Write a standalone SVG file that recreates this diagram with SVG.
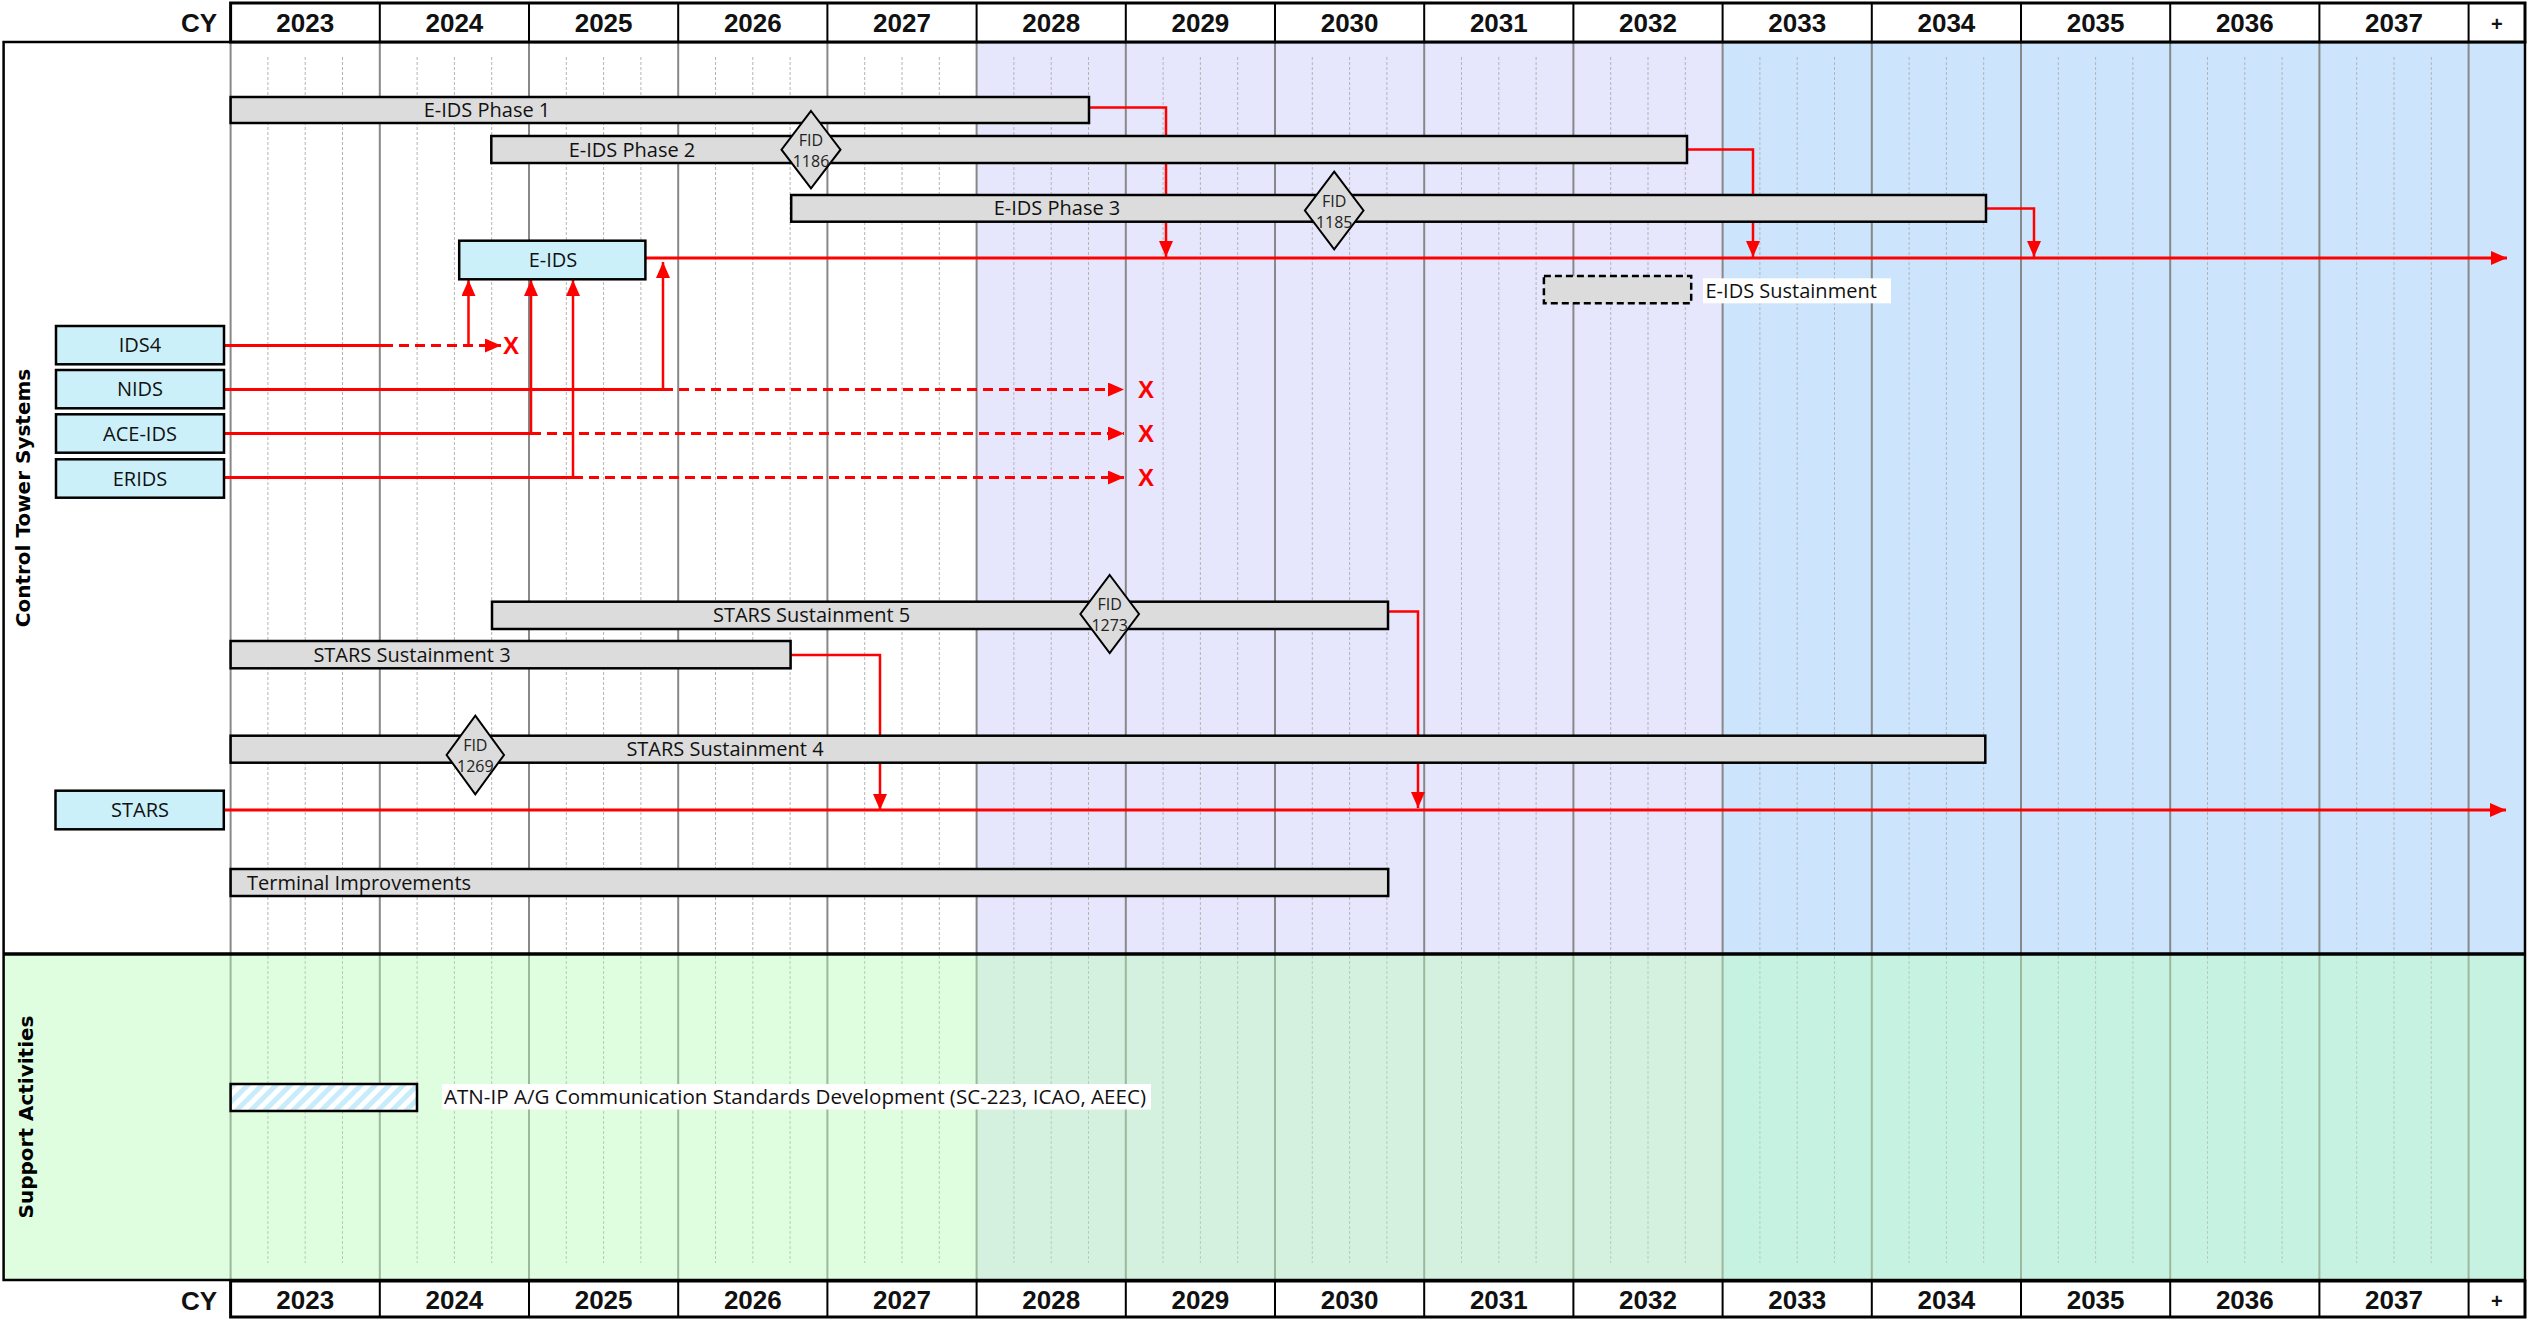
<svg xmlns="http://www.w3.org/2000/svg" width="2535" height="1319" viewBox="0 0 2535 1319">
<style>
.yr{font-family:"Liberation Sans",Arial,sans-serif;font-weight:bold;font-size:26px;fill:#111;text-anchor:middle}
.lbl{font-family:"Open Sans","Noto Sans",sans-serif;font-size:20px;fill:#111}
.c{text-anchor:middle}
.fid{font-family:"Open Sans","Noto Sans",sans-serif;font-size:16px;fill:#222;text-anchor:middle}
.sec{font-family:"DejaVu Sans",sans-serif;font-weight:bold;font-size:20px;fill:#000;text-anchor:middle}
.bar{fill:#DCDCDC;stroke:#000;stroke-width:2.5}
.sys{fill:#CCF0FA;stroke:#000;stroke-width:2.5}
.dia{fill:#DCDCDC;stroke:#000;stroke-width:2}
.red{fill:none;stroke:#FF0000;stroke-width:2.5}
.redm{fill:none;stroke:#FF0000;stroke-width:3}
.dash{fill:none;stroke:#FF0000;stroke-width:3;stroke-dasharray:10,6}
.x{font-family:"Liberation Sans",Arial,sans-serif;font-weight:bold;font-size:24px;fill:#FF0000;text-anchor:middle}
.hdr{fill:#fff;stroke:#000;stroke-width:3}
.div{stroke:#000;stroke-width:2}
</style>
<defs>
<marker id="arr" viewBox="0 0 16 14" refX="16" refY="7" markerWidth="16" markerHeight="14" markerUnits="userSpaceOnUse" orient="auto">
<path d="M0,0 L16,7 L0,14 z" fill="#FF0000"/>
</marker>
<pattern id="hatch" width="10" height="10" patternUnits="userSpaceOnUse" patternTransform="rotate(45)">
<rect width="10" height="10" fill="#fff"/>
<rect width="5" height="10" fill="#C8ECFA"/>
</pattern>
</defs>

<g id="background">
<rect x="0" y="0" width="2535" height="1319" fill="#fff"/>
<rect x="3.6" y="42" width="2521.4" height="912" fill="#fff"/>
<rect x="976.6" y="42" width="746" height="912" fill="#E6E6FD"/>
<rect x="1722.6" y="42" width="802.4" height="912" fill="#CCE5FC"/>
<rect x="3.6" y="954" width="973" height="326" fill="#DFFDDF"/>
<rect x="976.6" y="954" width="746" height="326" fill="#D4F0DF"/>
<rect x="1722.6" y="954" width="802.4" height="326" fill="#C6F2E1"/>
</g>

<g id="grid">
<path stroke="#B4B4B4" stroke-width="1" stroke-dasharray="3,2" fill="none" d="M267.9,57V953M305.2,57V953M342.5,57V953M417.1,57V953M454.4,57V953M491.7,57V953M566.3,57V953M603.6,57V953M640.9,57V953M715.5,57V953M752.8,57V953M790.1,57V953M864.7,57V953M902,57V953M939.3,57V953M1013.9,57V953M1051.2,57V953M1088.5,57V953M1163.1,57V953M1200.4,57V953M1237.7,57V953M1312.3,57V953M1349.6,57V953M1386.9,57V953M1461.5,57V953M1498.8,57V953M1536.1,57V953M1610.7,57V953M1648,57V953M1685.3,57V953M1759.9,57V953M1797.2,57V953M1834.5,57V953M1909.1,57V953M1946.4,57V953M1983.7,57V953M2058.3,57V953M2095.6,57V953M2132.9,57V953M2207.5,57V953M2244.8,57V953M2282.1,57V953M2356.7,57V953M2394,57V953M2431.3,57V953"/>
<path stroke="#B8CCB8" stroke-width="1" stroke-dasharray="3,2" fill="none" d="M267.9,956V1263M305.2,956V1263M342.5,956V1263M417.1,956V1263M454.4,956V1263M491.7,956V1263M566.3,956V1263M603.6,956V1263M640.9,956V1263M715.5,956V1263M752.8,956V1263M790.1,956V1263M864.7,956V1263M902,956V1263M939.3,956V1263M1013.9,956V1263M1051.2,956V1263M1088.5,956V1263M1163.1,956V1263M1200.4,956V1263M1237.7,956V1263M1312.3,956V1263M1349.6,956V1263M1386.9,956V1263M1461.5,956V1263M1498.8,956V1263M1536.1,956V1263M1610.7,956V1263M1648,956V1263M1685.3,956V1263M1759.9,956V1263M1797.2,956V1263M1834.5,956V1263M1909.1,956V1263M1946.4,956V1263M1983.7,956V1263M2058.3,956V1263M2095.6,956V1263M2132.9,956V1263M2207.5,956V1263M2244.8,956V1263M2282.1,956V1263M2356.7,956V1263M2394,956V1263M2431.3,956V1263"/>
<path stroke="#888" stroke-width="2" fill="none" d="M230.6,42V954M379.8,42V954M529,42V954M678.2,42V954M827.4,42V954M976.6,42V954M1125.8,42V954M1275,42V954M1424.2,42V954M1573.4,42V954M1722.6,42V954M1871.8,42V954M2021,42V954M2170.2,42V954M2319.4,42V954M2468.6,42V954"/>
<path stroke="#9DB89D" stroke-width="2" fill="none" d="M230.6,954V1280M379.8,954V1280M529,954V1280M678.2,954V1280M827.4,954V1280M976.6,954V1280M1125.8,954V1280M1275,954V1280M1424.2,954V1280M1573.4,954V1280M1722.6,954V1280M1871.8,954V1280M2021,954V1280M2170.2,954V1280M2319.4,954V1280M2468.6,954V1280"/>
</g>

<g id="frame">
<rect x="3.6" y="42" width="2521.4" height="1238" fill="none" stroke="#000" stroke-width="2.5"/>
<line x1="3.6" y1="954" x2="2525" y2="954" stroke="#000" stroke-width="3.5"/>
</g>

<g id="header-top">
<text class="yr" x="217" y="32" style="text-anchor:end">CY</text>
<rect class="hdr" x="230.6" y="3" width="2294.4" height="39"/>
<path class="div" d="M379.8,3V42M529,3V42M678.2,3V42M827.4,3V42M976.6,3V42M1125.8,3V42M1275,3V42M1424.2,3V42M1573.4,3V42M1722.6,3V42M1871.8,3V42M2021,3V42M2170.2,3V42M2319.4,3V42M2468.6,3V42"/>
<text class="yr" x="305.2" y="32">2023</text>
<text class="yr" x="454.4" y="32">2024</text>
<text class="yr" x="603.6" y="32">2025</text>
<text class="yr" x="752.8" y="32">2026</text>
<text class="yr" x="902" y="32">2027</text>
<text class="yr" x="1051.2" y="32">2028</text>
<text class="yr" x="1200.4" y="32">2029</text>
<text class="yr" x="1349.6" y="32">2030</text>
<text class="yr" x="1498.8" y="32">2031</text>
<text class="yr" x="1648" y="32">2032</text>
<text class="yr" x="1797.2" y="32">2033</text>
<text class="yr" x="1946.4" y="32">2034</text>
<text class="yr" x="2095.6" y="32">2035</text>
<text class="yr" x="2244.8" y="32">2036</text>
<text class="yr" x="2394" y="32">2037</text>
<text class="yr" x="2496.8" y="31" style="font-size:20px">+</text>
</g>

<g id="header-bottom">
<text class="yr" x="217" y="1310" style="text-anchor:end">CY</text>
<rect class="hdr" x="230.6" y="1281" width="2294.4" height="36"/>
<path class="div" d="M379.8,1281V1317M529,1281V1317M678.2,1281V1317M827.4,1281V1317M976.6,1281V1317M1125.8,1281V1317M1275,1281V1317M1424.2,1281V1317M1573.4,1281V1317M1722.6,1281V1317M1871.8,1281V1317M2021,1281V1317M2170.2,1281V1317M2319.4,1281V1317M2468.6,1281V1317"/>
<text class="yr" x="305.2" y="1309">2023</text>
<text class="yr" x="454.4" y="1309">2024</text>
<text class="yr" x="603.6" y="1309">2025</text>
<text class="yr" x="752.8" y="1309">2026</text>
<text class="yr" x="902" y="1309">2027</text>
<text class="yr" x="1051.2" y="1309">2028</text>
<text class="yr" x="1200.4" y="1309">2029</text>
<text class="yr" x="1349.6" y="1309">2030</text>
<text class="yr" x="1498.8" y="1309">2031</text>
<text class="yr" x="1648" y="1309">2032</text>
<text class="yr" x="1797.2" y="1309">2033</text>
<text class="yr" x="1946.4" y="1309">2034</text>
<text class="yr" x="2095.6" y="1309">2035</text>
<text class="yr" x="2244.8" y="1309">2036</text>
<text class="yr" x="2394" y="1309">2037</text>
<text class="yr" x="2496.8" y="1308" style="font-size:20px">+</text>
</g>

<g id="section-labels">
<text class="sec" transform="translate(30,498) rotate(-90)">Control Tower Systems</text>
<text class="sec" transform="translate(33,1117) rotate(-90)">Support Activities</text>
</g>

<g id="connectors">
<path class="redm" d="M645,258H2507" marker-end="url(#arr)"/>
<path class="red" d="M1089,107.5H1166V257" marker-end="url(#arr)"/>
<path class="red" d="M1687,149.5H1753V257" marker-end="url(#arr)"/>
<path class="red" d="M1986,208.5H2034V257" marker-end="url(#arr)"/>
<path class="redm" d="M224,345.5H383"/>
<path class="dash" d="M383,345.5H501" marker-end="url(#arr)"/>
<path class="red" d="M468.5,345.5V280" marker-end="url(#arr)"/>
<path class="redm" d="M224,389.5H663"/>
<path class="dash" d="M663,389.5H1124" marker-end="url(#arr)"/>
<path class="red" d="M663,389.5V262" marker-end="url(#arr)"/>
<path class="redm" d="M224,433.5H531"/>
<path class="dash" d="M531,433.5H1124" marker-end="url(#arr)"/>
<path class="red" d="M531,433.5V280" marker-end="url(#arr)"/>
<path class="redm" d="M224,477.5H573"/>
<path class="dash" d="M573,477.5H1124" marker-end="url(#arr)"/>
<path class="red" d="M573,477.5V280" marker-end="url(#arr)"/>
<path class="redm" d="M224,810H2506" marker-end="url(#arr)"/>
<path class="red" d="M1388,611.5H1418V808" marker-end="url(#arr)"/>
<path class="red" d="M790.6,655H880V810" marker-end="url(#arr)"/>
<text class="x" x="511" y="354">X</text>
<text class="x" x="1146" y="398">X</text>
<text class="x" x="1146" y="442">X</text>
<text class="x" x="1146" y="486">X</text>
</g>

<g id="eids-phase1">
<rect class="bar" x="230.6" y="97" width="858.4" height="26"/>
<text class="lbl c" x="487" y="117">E-IDS Phase 1</text>
</g>
<g id="eids-phase2">
<rect class="bar" x="491.3" y="136" width="1195.7" height="27"/>
<text class="lbl c" x="632" y="156.5">E-IDS Phase 2</text>
</g>
<g id="fid-1186">
<polygon class="dia" points="811,111 840.5,149.7 811,188.4 781.5,149.7"/>
<text class="fid" x="811" y="146">FID</text>
<text class="fid" x="811" y="167">1186</text>
</g>
<g id="eids-phase3">
<rect class="bar" x="791.2" y="195" width="1194.8" height="26.7"/>
<text class="lbl c" x="1057" y="215">E-IDS Phase 3</text>
</g>
<g id="fid-1185">
<polygon class="dia" points="1334.2,171.7 1363.5,210.5 1334.2,249.3 1304.9,210.5"/>
<text class="fid" x="1334.2" y="206.5">FID</text>
<text class="fid" x="1334.2" y="227.5">1185</text>
</g>
<g id="eids">
<rect class="sys" x="459.2" y="240.7" width="186.2" height="38.6"/>
<text class="lbl c" x="553" y="267">E-IDS</text>
</g>
<g id="eids-sustainment">
<rect x="1543.9" y="276" width="147.3" height="27.3" fill="#DCDCDC" stroke="#000" stroke-width="2.5" stroke-dasharray="7,4"/>
<rect x="1703" y="278.3" width="188" height="25" fill="#fff"/>
<text class="lbl" x="1705.5" y="298">E-IDS Sustainment</text>
</g>
<g id="ids4">
<rect class="sys" x="56" y="326" width="168" height="38.3"/>
<text class="lbl c" x="140" y="352">IDS4</text>
</g>
<g id="nids">
<rect class="sys" x="56" y="370" width="168" height="38.3"/>
<text class="lbl c" x="140" y="396">NIDS</text>
</g>
<g id="ace-ids">
<rect class="sys" x="56" y="414.3" width="168" height="38.4"/>
<text class="lbl c" x="140" y="440.5">ACE-IDS</text>
</g>
<g id="erids">
<rect class="sys" x="56" y="459.3" width="168" height="38.4"/>
<text class="lbl c" x="140" y="485.5">ERIDS</text>
</g>
<g id="stars-sust5">
<rect class="bar" x="492" y="601.7" width="896" height="27.3"/>
<text class="lbl c" x="811.6" y="622">STARS Sustainment 5</text>
</g>
<g id="fid-1273">
<polygon class="dia" points="1109.7,575 1139,614 1109.7,653 1080.4,614"/>
<text class="fid" x="1109.7" y="610">FID</text>
<text class="fid" x="1109.7" y="631">1273</text>
</g>
<g id="stars-sust3">
<rect class="bar" x="230.6" y="641" width="560" height="27.3"/>
<text class="lbl c" x="412" y="661.5">STARS Sustainment 3</text>
</g>
<g id="stars-sust4">
<rect class="bar" x="230.6" y="735.7" width="1754.7" height="27"/>
<text class="lbl c" x="725" y="756">STARS Sustainment 4</text>
</g>
<g id="fid-1269">
<polygon class="dia" points="475.3,715.7 504,755 475.3,794.3 446.6,755"/>
<text class="fid" x="475.3" y="751">FID</text>
<text class="fid" x="475.3" y="772">1269</text>
</g>
<g id="stars">
<rect class="sys" x="55.5" y="790.7" width="168.3" height="38.6"/>
<text class="lbl c" x="140" y="817">STARS</text>
</g>
<g id="terminal-improvements">
<rect class="bar" x="230.6" y="869" width="1157.6" height="27"/>
<text class="lbl" x="247" y="889.5">Terminal Improvements</text>
</g>
<g id="atn-ip">
<rect x="230.6" y="1084" width="186.4" height="27" fill="url(#hatch)" stroke="#000" stroke-width="2.5"/>
<rect x="442" y="1084" width="709" height="25.5" fill="#fff"/>
<text class="lbl" x="444" y="1104" textLength="702" lengthAdjust="spacingAndGlyphs">ATN-IP A/G Communication Standards Development (SC-223, ICAO, AEEC)</text>
</g>
</svg>
